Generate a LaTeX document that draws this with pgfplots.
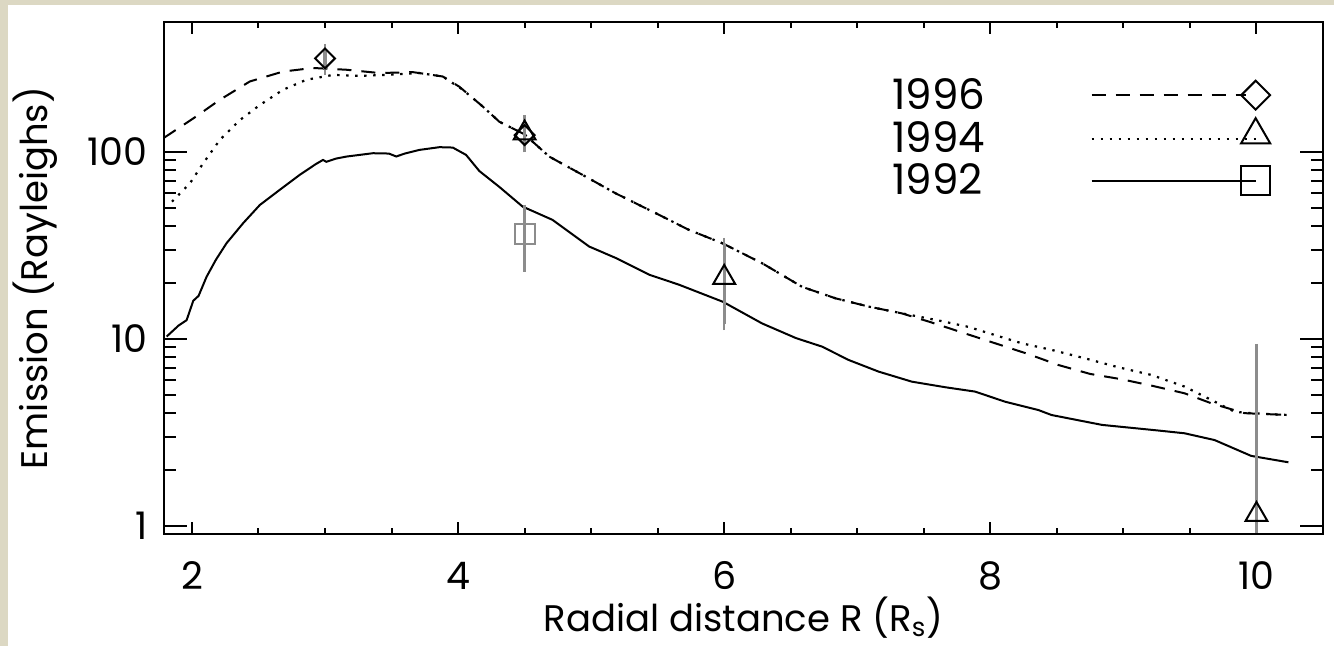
\documentclass[border=0pt]{standalone}
\usepackage{fontspec}
\setmainfont{Poppins}
\usepackage{pgfplots}
\usepackage{pgfplotstable}
\pgfplotsset{compat=1.18}
\definecolor{framebeige}{RGB}{220,216,195}
\definecolor{errgray}{RGB}{140,140,140}

% 1996 model (dashed)
\pgfplotstableread{
r em
1.79 119
2.01 151
2.21 190
2.435 238
2.685 269
2.91 281
3.16 275
3.41 264
3.66 267
3.885 253
4.01 223
4.185 175
4.31 145
4.50 124
4.685 94.4
4.935 75.4
5.185 60
5.46 48
5.735 38.3
5.985 32.5
6.285 25.4
6.585 19
6.835 16.5
7.085 14.9
7.335 13.7
7.55 12.3
7.81 10.7
8.285 8.3
8.51 7.26
8.75 6.5
8.985 6.09
9.22 5.61
9.46 5.12
9.66 4.53
9.91 4.01
10.24 3.92
}\tabA

% 1994 model (dotted)
\pgfplotstableread{
r em
1.85 54.2
1.985 68
2.085 87
2.21 116
2.36 148
2.51 178
2.685 215
2.86 243
3.06 258
3.26 255
3.46 258
3.71 264
3.885 253
4.035 215
4.185 175
4.31 145
4.50 124
4.685 94.4
4.935 75.4
5.185 60
5.46 48
5.735 38.3
5.985 32.5
6.285 25.4
6.585 19
6.835 16.5
7.085 14.9
7.335 13.7
7.6 12.6
7.835 11.6
8.235 9.48
8.46 8.74
8.71 7.88
8.96 7.06
9.21 6.42
9.46 5.56
9.66 4.72
9.835 4.08
9.96 4.01
10.24 3.92
}\tabB

% 1992 model (solid)
\pgfplotstableread{
r em
1.81 10.3
1.90 11.8
1.96 12.6
2.01 16.0
2.05 17.0
2.11 21.5
2.18 26.5
2.26 32.5
2.385 41.6
2.51 52
2.66 62.7
2.81 75.4
2.93 86
2.985 90.6
3.01 88.5
3.08 92
3.16 94.4
3.36 98.4
3.48 98
3.535 94.5
3.6 98
3.71 102.5
3.86 106
3.96 105.5
4.06 96.4
4.16 79
4.31 65
4.485 51
4.71 43.3
4.985 31.2
5.19 27
5.44 22
5.66 19.5
5.99 15.8
6.285 12.1
6.54 10.1
6.735 9.1
6.935 7.72
7.16 6.69
7.41 5.91
7.66 5.52
7.885 5.23
8.11 4.62
8.36 4.17
8.46 3.92
8.84 3.47
9.26 3.24
9.46 3.13
9.685 2.88
9.96 2.37
10.24 2.19
}\tabC

\begin{document}
\begin{tikzpicture}
\fill[framebeige] (-82pt,-56pt) rectangle (585pt,267pt);
\fill[white] (-78pt,-56pt) rectangle (585pt,264.5pt);
\useasboundingbox (-82pt,-56pt) rectangle (585pt,267pt);

\begin{axis}[ymode=log,
  width=579.5pt, height=256pt, scale only axis,
  at={(0pt,0pt)}, anchor=south west,
  xmin=1.79, xmax=10.5, ymin=0.906, ymax=495,
  tick align=inside,
  axis line style={line width=1.3pt},
  every tick/.style={black, line width=1pt},
  tick label style={font=\fontsize{19}{22}\selectfont},
  label style={font=\fontsize{18.5}{22}\selectfont},
  xtick={2,4,6,8,10}, xticklabels={2,4,6,8,10}, minor x tick num=3,
  ytick=\empty, yminorticks=false,
  major tick length=6pt, minor tick length=3pt,
  xticklabel style={anchor=base, yshift=-28pt},
  xlabel={Radial distance R (R\textsubscript{s})},
  xlabel style={at={(axis description cs:0.5,-0.19)}, anchor=base},
  legend cell align=left, legend plot pos=right,
  legend style={at={(axis description cs:0.6265,0.895)}, anchor=north west,
    draw=none, fill=none, inner sep=0pt, row sep=2pt, column sep=0pt,
    nodes={inner sep=1pt}, font=\fontsize{21}{24}\selectfont},
]
\addplot[black, line width=1pt, dash pattern=on 7pt off 5pt,
  legend image code/.code={\path (0pt,0pt);
    \draw[black, line width=1pt, dash pattern=on 7pt off 5pt] (51.5pt,0pt) -- (128.5pt,0pt);
    \draw[black, solid, line width=1pt, mark=square, mark size=5.1pt, mark options={rotate=45}] plot coordinates {(133.5pt,0pt)};}]
  table[x=r, y=em] {\tabA};
\addlegendentry{1996}
\addplot[black, line width=1.1pt, dash pattern=on 1.2pt off 3.3pt,
  legend image code/.code={\path (0pt,0pt);
    \draw[black, line width=1.1pt, dash pattern=on 1.2pt off 3.3pt] (51.5pt,0pt) -- (133.5pt,0pt);
    \draw[black, solid, line width=1pt, mark=triangle, mark size=8.4pt] plot coordinates {(133.5pt,2pt)};}]
  table[x=r, y=em] {\tabB};
\addlegendentry{1994}
\addplot[black, line width=1pt,
  legend image code/.code={\path (0pt,0pt);
    \draw[black, line width=1pt] (51.5pt,0pt) -- (133.5pt,0pt);
    \draw[black, solid, line width=1pt, mark=square, mark size=7.2pt] plot coordinates {(133.5pt,0pt)};}]
  table[x=r, y=em] {\tabC};
\addlegendentry{1992}

% measurements with error bars
\addplot[only marks, forget plot, mark=square, mark size=5pt,
  mark options={errgray, line width=1pt},
  error bars/.cd, y dir=both, y explicit,
  error bar style={line width=1.6pt, errgray},
  error mark options={errgray, line width=1.2pt, mark size=3pt}]
  coordinates {(4.5,36.6) += (0,12) -= (0,12)};
\addplot[only marks, forget plot, mark=square, mark size=3.5pt,
  mark options={black, line width=1pt, rotate=45},
  error bars/.cd, y dir=both, y explicit,
  error bar style={line width=1.6pt, errgray},
  error mark options={errgray, line width=1.2pt, mark size=3pt}]
  coordinates {(3.0,316) += (0,35) -= (0,38) (4.5,123) += (0,22) -= (0,16)};
\addplot[only marks, forget plot, mark=triangle, mark size=6.3pt,
  mark options={black, line width=1pt},
  error bars/.cd, y dir=both, y explicit,
  error bar style={line width=1.6pt, errgray},
  error mark options={errgray, line width=1.2pt, mark size=3pt}]
  coordinates {(4.5,126) += (0,20) -= (0,18) (6.0,21.3) += (0,10.9) -= (0,9.3) (10.0,1.15) += (0,7.6) -= (0,0.7)};
\end{axis}

\begin{axis}[ymode=log,
  width=579.5pt, height=256pt, scale only axis,
  at={(0pt,0pt)}, anchor=south west,
  xmin=1.79, xmax=10.5, ymin=0.906, ymax=495,
  tick align=inside,
  axis line style={line width=1.3pt},
  every tick/.style={black, line width=1pt},
  tick label style={font=\fontsize{19}{22}\selectfont},
  label style={font=\fontsize{18.5}{22}\selectfont},
  xtick=\empty, xminorticks=false,
  ytick={1,10,100}, yticklabels={1,10,100},
  major tick length=11.5pt, minor tick length=6pt,
  yticklabel style={anchor=east, inner sep=0pt, xshift=-8pt},
  ylabel={Emission (Rayleighs)},
  ylabel style={at={(axis description cs:-0.1113,0.5)}, anchor=center},
]
\addplot[draw=none, forget plot] coordinates {(5,10)};
\end{axis}
\end{tikzpicture}
\end{document}
